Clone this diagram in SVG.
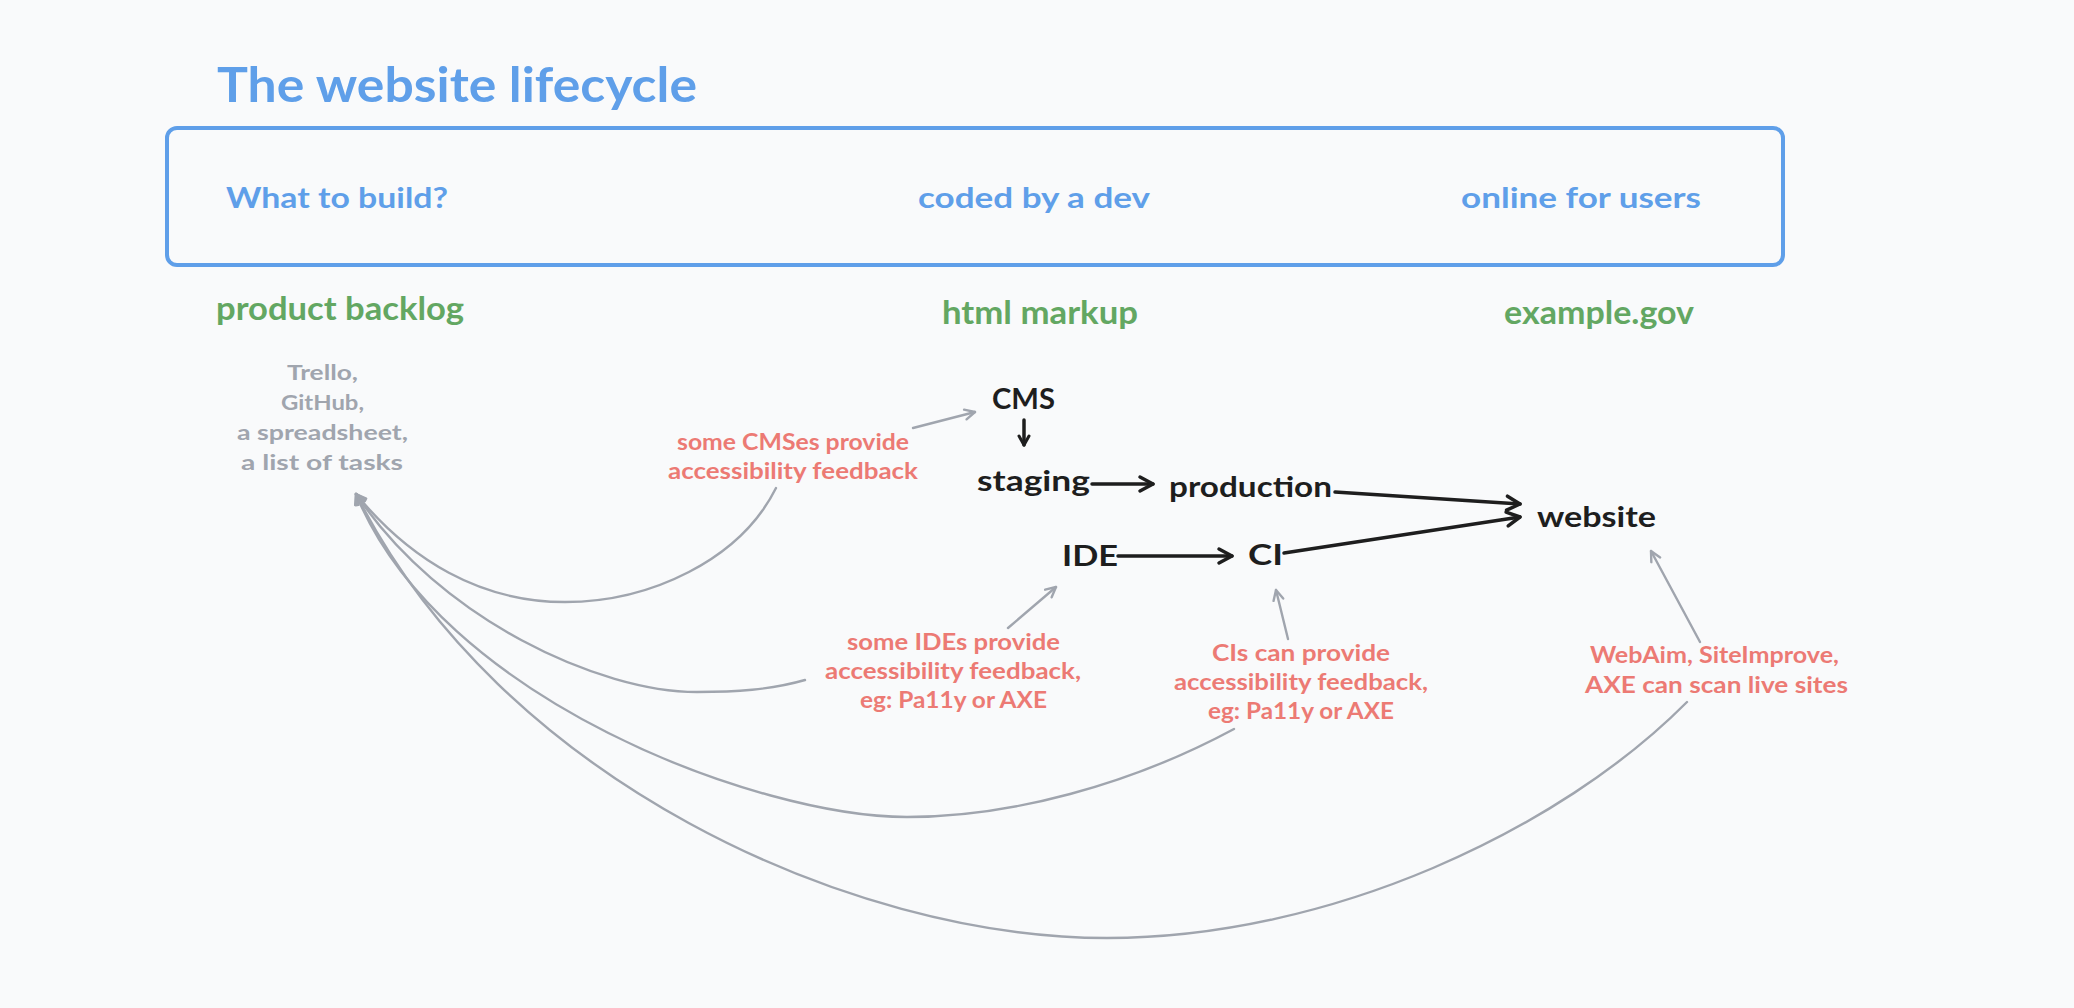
<svg xmlns="http://www.w3.org/2000/svg" width="2074" height="1008" viewBox="0 0 2074 1008">
<style>
text{font-family:Lato,"Open Sans","Liberation Sans",sans-serif;font-weight:700}
.title{font-size:47px;fill:#5f9fe9}
.hdr{font-size:29px;fill:#5f9fe9}
.grn{font-size:32px;fill:#63a762}
.node{font-size:29px;fill:#1e1e1e}
.gray{font-size:21px;fill:#a0a5ae}
.red{font-size:22px;fill:#ec7a74}
.thin{fill:none;stroke:#a0a5ae;stroke-width:2.4;stroke-linecap:round}
.thick{fill:none;stroke:#1e1e1e;stroke-width:3.5;stroke-linecap:round}
</style>
<defs>
<marker id="ag" markerUnits="userSpaceOnUse" viewBox="0 0 14 14" refX="12" refY="7" markerWidth="14" markerHeight="14" orient="auto">
<path d="M2,2 L12,7 L2,12" fill="none" stroke="#a0a5ae" stroke-width="2.4" stroke-linecap="round" stroke-linejoin="round"/>
</marker>
<marker id="ab" markerUnits="userSpaceOnUse" viewBox="0 0 20 20" refX="17" refY="10" markerWidth="20" markerHeight="20" orient="auto">
<path d="M4,3 L17,10 L4,17" fill="none" stroke="#1e1e1e" stroke-width="3.5" stroke-linecap="round" stroke-linejoin="round"/>
</marker>
<marker id="abs" markerUnits="userSpaceOnUse" viewBox="0 0 14 14" refX="12" refY="7" markerWidth="14" markerHeight="14" orient="auto">
<path d="M3,2 L12,7 L3,12" fill="none" stroke="#1e1e1e" stroke-width="3" stroke-linecap="round" stroke-linejoin="round"/>
</marker>
</defs>
<rect width="2074" height="1008" fill="#f9fafb"/>

<g id="title"><text class="title" x="217" y="102" textLength="480" lengthAdjust="spacingAndGlyphs">The website lifecycle</text></g>

<g id="lifecycle-box">
<rect x="167" y="128" width="1616" height="137" rx="10" fill="none" stroke="#5f9fe9" stroke-width="4"/>
<text class="hdr" x="226" y="208" textLength="222" lengthAdjust="spacingAndGlyphs">What to build?</text>
<text class="hdr" x="918" y="208" textLength="232" lengthAdjust="spacingAndGlyphs">coded by a dev</text>
<text class="hdr" x="1461" y="208" textLength="240" lengthAdjust="spacingAndGlyphs">online for users</text>
</g>

<g id="stages">
<text class="grn" x="216" y="320" textLength="248" lengthAdjust="spacingAndGlyphs">product backlog</text>
<text class="grn" x="942" y="324" textLength="196" lengthAdjust="spacingAndGlyphs">html markup</text>
<text class="grn" x="1504" y="324" textLength="190" lengthAdjust="spacingAndGlyphs">example.gov</text>
</g>

<g id="backlog-tools">
<text class="gray" x="287" y="380" textLength="71" lengthAdjust="spacingAndGlyphs">Trello,</text>
<text class="gray" x="281" y="410" textLength="83" lengthAdjust="spacingAndGlyphs">GitHub,</text>
<text class="gray" x="237" y="440" textLength="171" lengthAdjust="spacingAndGlyphs">a spreadsheet,</text>
<text class="gray" x="241" y="470" textLength="162" lengthAdjust="spacingAndGlyphs">a list of tasks</text>
</g>

<g id="node-cms"><text class="node" x="992" y="409" textLength="63" lengthAdjust="spacingAndGlyphs">CMS</text></g>
<g id="node-staging"><text class="node" x="977" y="491" textLength="113" lengthAdjust="spacingAndGlyphs">staging</text></g>
<g id="node-production"><text class="node" x="1169" y="497" textLength="163" lengthAdjust="spacingAndGlyphs">production</text></g>
<g id="node-website"><text class="node" x="1537" y="527" textLength="119" lengthAdjust="spacingAndGlyphs">website</text></g>
<g id="node-ide"><text class="node" x="1062" y="566" textLength="56" lengthAdjust="spacingAndGlyphs">IDE</text></g>
<g id="node-ci"><text class="node" x="1248" y="565" textLength="35" lengthAdjust="spacingAndGlyphs">CI</text></g>

<g id="note-cms">
<text class="red" x="677" y="450" textLength="232" lengthAdjust="spacingAndGlyphs">some CMSes provide</text>
<text class="red" x="668" y="479" textLength="250" lengthAdjust="spacingAndGlyphs">accessibility feedback</text>
</g>
<g id="note-ide">
<text class="red" x="847" y="650" textLength="213" lengthAdjust="spacingAndGlyphs">some IDEs provide</text>
<text class="red" x="825" y="679" textLength="256" lengthAdjust="spacingAndGlyphs">accessibility feedback,</text>
<text class="red" x="860" y="708" textLength="187" lengthAdjust="spacingAndGlyphs">eg: Pa11y or AXE</text>
</g>
<g id="note-ci">
<text class="red" x="1212" y="661" textLength="178" lengthAdjust="spacingAndGlyphs">CIs can provide</text>
<text class="red" x="1174" y="690" textLength="254" lengthAdjust="spacingAndGlyphs">accessibility feedback,</text>
<text class="red" x="1208" y="719" textLength="186" lengthAdjust="spacingAndGlyphs">eg: Pa11y or AXE</text>
</g>
<g id="note-scan">
<text class="red" x="1590" y="663" textLength="249" lengthAdjust="spacingAndGlyphs">WebAim, SiteImprove,</text>
<text class="red" x="1585" y="693" textLength="263" lengthAdjust="spacingAndGlyphs">AXE can scan live sites</text>
</g>

<g id="connectors">
<path class="thick" d="M1024,420 L1024,445" marker-end="url(#abs)"/>
<path class="thick" d="M1092,484 L1153,484" marker-end="url(#ab)"/>
<path class="thick" d="M1335,492 L1520,504" marker-end="url(#ab)"/>
<path class="thick" d="M1118,556 L1232,556" marker-end="url(#ab)"/>
<path class="thick" d="M1284,553 L1520,517" marker-end="url(#ab)"/>

<path class="thin" d="M913,428 L975,412" marker-end="url(#ag)"/>
<path class="thin" d="M1008,628 L1056,587" marker-end="url(#ag)"/>
<path class="thin" d="M1288,639 L1276,590" marker-end="url(#ag)"/>
<path class="thin" d="M1700,642 L1651,551" marker-end="url(#ag)"/>

<path class="thin" d="M776,488 C740,560 650,602 565,602 C480,602 410,560 356,494" marker-end="url(#ag)"/>
<path class="thin" d="M805,680 C770,690 735,692 697,692 C600,692 440,620 356,494" marker-end="url(#ag)"/>
<path class="thin" d="M1234,729 C1130,785 1010,817 907,817 C760,817 440,700 356,494" marker-end="url(#ag)"/>
<path class="thin" d="M1687,702 C1560,830 1330,938 1107,938 C850,938 500,780 356,494" marker-end="url(#ag)"/>
</g>
</svg>
